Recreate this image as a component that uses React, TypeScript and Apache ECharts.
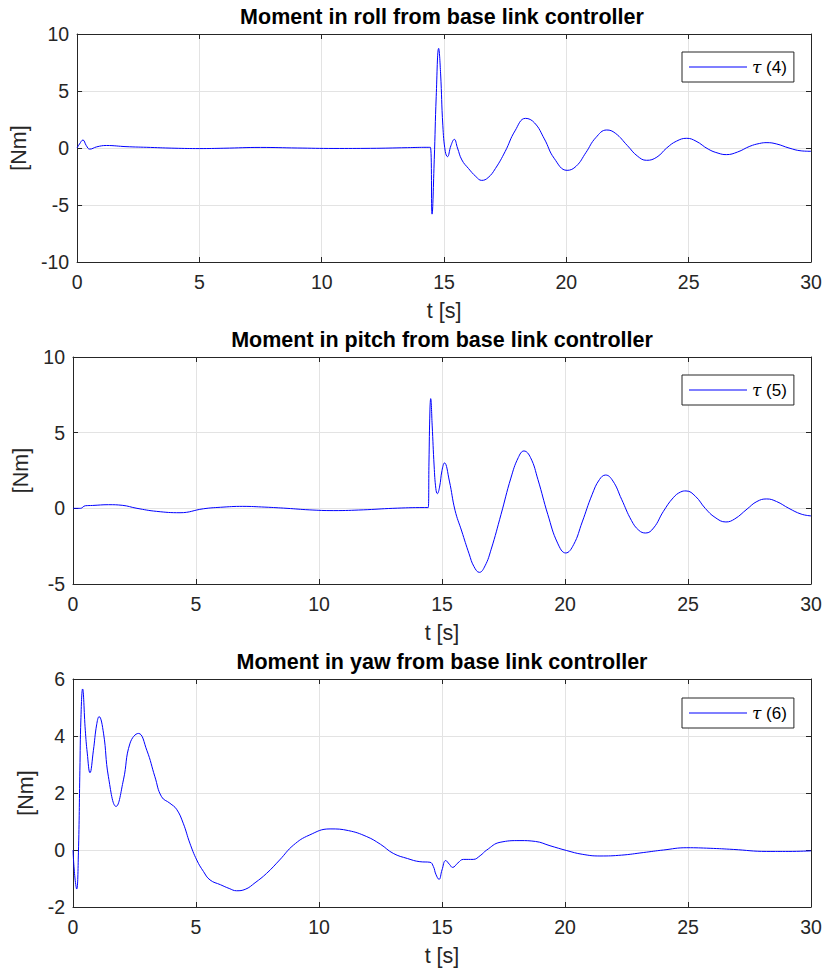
import React, { useEffect, useRef } from 'react';
import * as echarts from 'echarts';

const FONT = '"Liberation Sans", Arial, Helvetica, sans-serif';

// ---- Data ----
const xTicks = [0, 5, 10, 15, 20, 25, 30];

const titles = [
  'Moment in roll from base link controller',
  'Moment in pitch from base link controller',
  'Moment in yaw from base link controller',
];
const seriesNames = ['τ (4)', 'τ (5)', 'τ (6)'];

// Roll moment tau(4)
const tRoll = [0, 0.1, 0.24, 0.38, 0.52, 0.8, 1.2, 2, 3, 4, 5, 6, 7.5, 9, 10.5, 12, 13.5, 14.3, 14.44, 14.51, 14.6, 14.68, 14.78, 14.86, 14.95, 15.05, 15.14, 15.28, 15.42, 15.55, 15.73, 16.0, 16.3, 16.54, 16.8, 17.1, 17.5, 17.9, 18.33, 18.7, 19.1, 19.5, 20.03, 20.4, 20.8, 21.2, 21.65, 22.0, 22.5, 22.9, 23.28, 23.7, 24.1, 24.5, 24.92, 25.3, 25.8, 26.2, 26.54, 27.0, 27.5, 27.9, 28.2, 28.6, 29.1, 29.6, 30];
const vRoll = [0, 0.35, 0.7, 0.2, -0.1, 0.1, 0.22, 0.12, 0.05, -0.02, -0.05, -0.02, 0.05, 0.0, -0.04, -0.03, 0.03, 0.06, 0.06, -5.8, -1.0, 4.5, 8.74, 6.5, 2.0, -0.3, -0.76, 0.2, 0.76, 0.0, -1.05, -1.8, -2.5, -2.84, -2.6, -1.8, -0.3, 1.5, 2.6, 2.2, 0.8, -0.9, -1.96, -1.6, -0.4, 0.9, 1.58, 1.3, 0.2, -0.7, -1.08, -0.8, 0.0, 0.6, 0.85, 0.6, -0.1, -0.45, -0.58, -0.35, 0.15, 0.4, 0.47, 0.35, 0.0, -0.25, -0.29];

// Pitch moment tau(5)
const tPitch = [0, 0.3, 0.5, 0.8, 1.44, 2.0, 2.6, 3.4, 4.35, 5.3, 6.0, 6.9, 7.8, 8.7, 9.6, 10.6, 11.8, 13.0, 14.3, 14.44, 14.47, 14.51, 14.54, 14.6, 14.68, 14.75, 14.81, 14.9, 15.0, 15.1, 15.3, 15.53, 15.8, 16.1, 16.3, 16.52, 16.75, 17.0, 17.4, 17.8, 18.1, 18.33, 18.6, 18.9, 19.3, 19.7, 20.03, 20.35, 20.7, 21.1, 21.4, 21.65, 21.95, 22.3, 22.7, 23.0, 23.28, 23.6, 24.0, 24.4, 24.7, 24.92, 25.3, 25.7, 26.1, 26.54, 26.9, 27.4, 27.8, 28.2, 28.6, 29.1, 29.6, 30];
const vPitch = [0, 0.0, 0.17, 0.19, 0.24, 0.2, 0.0, -0.2, -0.29, -0.03, 0.07, 0.13, 0.08, 0.0, -0.1, -0.15, -0.1, 0.0, 0.05, 0.05, 3.0, 6.5, 7.25, 5.5, 2.8, 1.3, 0.97, 1.4, 2.5, 3.0, 1.8, -0.13, -1.5, -3.0, -3.85, -4.23, -3.8, -2.7, -0.4, 2.0, 3.35, 3.79, 3.35, 1.9, -0.4, -2.3, -2.95, -2.4, -0.9, 0.9, 1.9, 2.2, 1.8, 0.6, -0.8, -1.45, -1.63, -1.3, -0.2, 0.7, 1.08, 1.15, 0.8, 0.0, -0.6, -0.9, -0.7, -0.05, 0.45, 0.62, 0.45, 0.0, -0.38, -0.5];

// Yaw moment tau(6)
const tYaw = [0, 0.07, 0.15, 0.22, 0.28, 0.32, 0.39, 0.5, 0.58, 0.69, 0.83, 0.96, 1.06, 1.24, 1.44, 1.75, 2.05, 2.32, 2.66, 3.0, 3.33, 3.6, 3.94, 4.21, 4.48, 4.75, 5.03, 5.3, 5.57, 6.0, 6.35, 6.65, 7.0, 7.4, 7.87, 8.4, 8.96, 9.6, 10.45, 11.2, 11.94, 12.5, 13.02, 13.6, 14.1, 14.51, 14.65, 14.75, 14.88, 15.0, 15.15, 15.3, 15.43, 15.65, 15.87, 16.27, 16.55, 16.82, 17.36, 18.17, 18.8, 19.39, 20.07, 20.7, 21.42, 22.3, 23.18, 24.0, 24.95, 25.9, 26.84, 28.2, 29.1, 30];
const vYaw = [0, -0.9, -1.37, -0.1, 2.8, 4.56, 5.65, 4.2, 3.4, 2.71, 3.5, 4.39, 4.68, 4.1, 2.57, 1.53, 2.46, 3.75, 4.09, 3.5, 2.57, 1.87, 1.64, 1.43, 0.94, 0.24, -0.35, -0.75, -1.05, -1.22, -1.35, -1.43, -1.38, -1.15, -0.82, -0.35, 0.17, 0.52, 0.74, 0.68, 0.47, 0.2, -0.12, -0.3, -0.41, -0.43, -0.58, -0.85, -1.03, -0.7, -0.37, -0.5, -0.61, -0.45, -0.33, -0.33, -0.2, 0.0, 0.27, 0.33, 0.3, 0.15, -0.02, -0.15, -0.21, -0.18, -0.09, 0.0, 0.08, 0.06, 0.02, -0.05, -0.05, -0.03];

const yRanges = [
  { min: -10, max: 10, interval: 5 },
  { min: -5, max: 10, interval: 5 },
  { min: -2, max: 6, interval: 2 },
];

const times = [tRoll, tPitch, tYaw];
const values = [vRoll, vPitch, vYaw];

// ---- Layout ----
const layout = [
  { top: 34, height: 228, titleY: 17.4, legendTop: 52, yNameGap: 46 },
  { top: 357, height: 227, titleY: 340.4, legendTop: 375, yNameGap: 40 },
  { top: 679, height: 228, titleY: 662.4, legendTop: 698, yNameGap: 33 },
];

const AX = '#262626';
const GRID = '#e3e3e3';

function zip(t: number[], v: number[]) {
  const n = Math.min(t.length, v.length);
  const out: number[][] = [];
  for (let i = 0; i < n; i++) out.push([t[i], v[i]]);
  return out;
}

function buildOption() {
  const grid: any[] = [];
  const xAxis: any[] = [];
  const yAxis: any[] = [];
  const series: any[] = [];
  const legend: any[] = [];
  const graphic: any[] = [];

  layout.forEach((L, i) => {
    grid.push({ left: 73, top: L.top, width: 738, height: L.height, show: false });
    const tickStyle = { show: true, inside: true, length: 5, lineStyle: { color: AX, width: 1 } };
    const lineStyle = { show: true, onZero: false, lineStyle: { color: AX, width: 1 } };
    xAxis.push({
      type: 'value', gridIndex: i, position: 'bottom',
      min: xTicks[0], max: xTicks[xTicks.length - 1], interval: 5,
      axisLine: lineStyle, axisTick: tickStyle,
      axisLabel: { color: AX, fontSize: 19.5, fontFamily: FONT, margin: 10 },
      splitLine: { show: true, lineStyle: { color: GRID, width: 1 } },
      name: 't [s]', nameLocation: 'middle', nameGap: 38,
      nameTextStyle: { color: AX, fontSize: 21.5, fontFamily: FONT },
    });
    xAxis.push({
      type: 'value', gridIndex: i, position: 'top',
      min: xTicks[0], max: xTicks[xTicks.length - 1], interval: 5,
      axisLine: lineStyle, axisTick: tickStyle,
      axisLabel: { show: false }, splitLine: { show: false },
    });
    const r = yRanges[i];
    yAxis.push({
      type: 'value', gridIndex: i, position: 'left',
      min: r.min, max: r.max, interval: r.interval,
      axisLine: lineStyle, axisTick: tickStyle,
      axisLabel: { color: AX, fontSize: 19.5, fontFamily: FONT, margin: 8 },
      splitLine: { show: true, lineStyle: { color: GRID, width: 1 } },
      name: '[Nm]', nameLocation: 'middle', nameGap: L.yNameGap,
      nameTextStyle: { color: AX, fontSize: 21.5, fontFamily: FONT },
    });
    yAxis.push({
      type: 'value', gridIndex: i, position: 'right',
      min: r.min, max: r.max, interval: r.interval,
      axisLine: lineStyle, axisTick: tickStyle,
      axisLabel: { show: false }, splitLine: { show: false },
    });
    series.push({
      type: 'line', name: seriesNames[i],
      xAxisIndex: i * 2, yAxisIndex: i * 2,
      data: zip(times[i], values[i]),
      symbol: 'none', showSymbol: false,
      smooth: 0.45,
      lineStyle: { color: '#0000ff', width: 1 },
      itemStyle: { color: '#0000ff' },
      z: 5,
    });
    legend.push({
      data: [{ name: seriesNames[i], icon: 'rect' }],
      left: 682, top: L.legendTop,
      orient: 'vertical',
      padding: [6, 7, 6, 7],
      itemWidth: 58, itemHeight: 1.2,
      itemStyle: { color: '#0000ff', borderWidth: 0 },
      backgroundColor: '#ffffff',
      borderColor: AX, borderWidth: 1, borderRadius: 0,
      selectedMode: false,
      formatter: (name: string) => name.replace('τ', '{tau|τ}'),
      textStyle: {
        color: '#000', fontSize: 17, fontFamily: FONT, lineHeight: 18,
        rich: { tau: { color: '#000', fontSize: 17, lineHeight: 18, fontFamily: '"DejaVu Serif", serif', fontStyle: 'italic' } },
      },
    });
    graphic.push({
      type: 'text', x: 442, y: L.titleY, z: 10,
      style: {
        text: titles[i], fill: '#000',
        fontSize: 21.5, fontWeight: 'bold', fontFamily: FONT,
        align: 'center', verticalAlign: 'middle',
        textAlign: 'center', textVerticalAlign: 'middle',
      },
    });
  });

  return {
    animation: false,
    backgroundColor: '#ffffff',
    grid, xAxis, yAxis, series, legend, graphic,
  };
}

export default function App() {
  const ref = useRef<HTMLDivElement>(null);
  useEffect(() => {
    if (!ref.current) return;
    const chart = echarts.init(ref.current, undefined, { renderer: 'svg' });
    chart.setOption(buildOption() as any);
    return () => chart.dispose();
  }, []);
  return (
    <div
      ref={ref}
      style={{ position: 'absolute', left: 0, top: 0, width: 825, height: 971, background: '#fff' }}
    />
  );
}
